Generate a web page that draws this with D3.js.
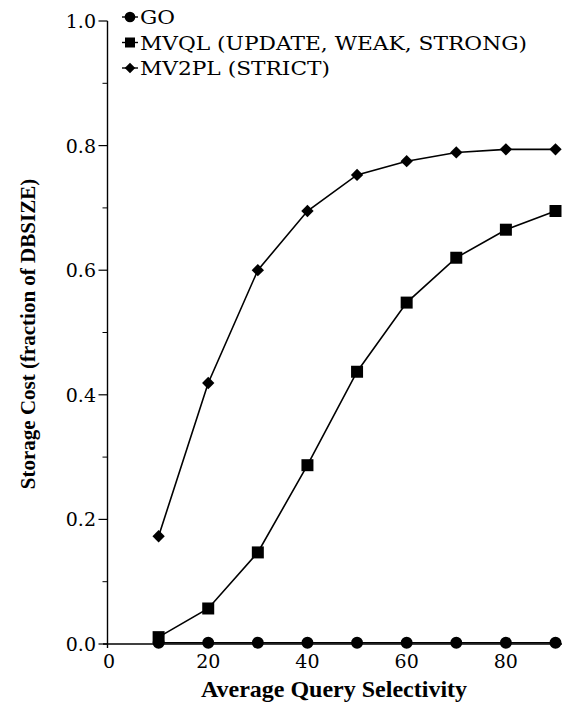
<!DOCTYPE html>
<html lang="en"><head><meta charset="UTF-8">
<title>Storage Cost vs Query Selectivity</title>
<script src="https://d3js.org/d3.v7.min.js"></script>
<style type="text/css">
  body { margin: 0; background: #fff; }
</style>
</head>
<body>
<script type="text/javascript">

// data
var selectivity = [10, 20, 30, 40, 50, 60, 70, 80, 90];
var go    = [0.002, 0.002, 0.002, 0.002, 0.002, 0.002, 0.002, 0.002, 0.002];
var mvql  = [0.011, 0.057, 0.147, 0.287, 0.437, 0.548, 0.620, 0.665, 0.695];
var mv2pl = [0.173, 0.419, 0.600, 0.695, 0.753, 0.775, 0.789, 0.794, 0.794];

var seriesNames = ["GO", "MVQL (UPDATE, WEAK, STRONG)", "MV2PL (STRICT)"];
var legendWidths = [35, 387, 190];
var xTickValues = [0, 20, 40, 60, 80];
var yTickValues = [0, 0.2, 0.4, 0.6, 0.8, 1.0];

var w = 569, h = 707;
var plain = "'DejaVu Serif', 'Liberation Serif', serif";
var boldFam = "'Liberation Serif'";

var svg = d3.select("body").append("svg")
    .attr("width", w)
    .attr("height", h);

var x = d3.scaleLinear().domain([0, 90]).range([109, 555.5]);
var y = d3.scaleLinear().domain([0, 1]).range([644, 21]);

var axisX = 107.5;

// y axis line + ticks
svg.append("line")
    .attr("x1", axisX).attr("x2", axisX)
    .attr("y1", y(1)).attr("y2", y(0) + 4)
    .attr("stroke", "#000").attr("stroke-width", 1.4);

svg.selectAll(".minor").data(d3.range(1, 10, 2).map(function(d) { return d / 10; }))
  .enter().append("line")
    .attr("x1", axisX - 5).attr("x2", axisX)
    .attr("y1", function(d) { return y(d); })
    .attr("y2", function(d) { return y(d); })
    .attr("stroke", "#000").attr("stroke-width", 1);

svg.selectAll(".major").data(yTickValues)
  .enter().append("line")
    .attr("x1", axisX - 9).attr("x2", axisX)
    .attr("y1", function(d) { return y(d); })
    .attr("y2", function(d) { return y(d); })
    .attr("stroke", "#000").attr("stroke-width", 1.2);

svg.selectAll(".ylab").data(yTickValues)
  .enter().append("text")
    .attr("x", 96)
    .attr("y", function(d) { return y(d) + 7; })
    .attr("text-anchor", "end")
    .attr("font-family", plain)
    .attr("font-size", 19)
    .text(function(d) { return d.toFixed(1); });

// x axis line + labels
svg.append("line")
    .attr("x1", 103).attr("x2", 562)
    .attr("y1", y(0)).attr("y2", y(0))
    .attr("stroke", "#000").attr("stroke-width", 1.4);

svg.selectAll(".xlab").data(xTickValues)
  .enter().append("text")
    .attr("x", function(d) { return x(d); })
    .attr("y", 668)
    .attr("text-anchor", "middle")
    .attr("font-family", plain)
    .attr("font-size", 19)
    .text(function(d) { return d; });

// axis titles
svg.append("text")
    .attr("x", 334).attr("y", 697)
    .attr("text-anchor", "middle")
    .attr("font-family", boldFam)
    .attr("font-weight", "bold")
    .attr("font-size", 24)
    .text("Average Query Selectivity");

svg.append("text")
    .attr("transform", "translate(35,334) rotate(-90)")
    .attr("text-anchor", "middle")
    .attr("font-family", boldFam)
    .attr("font-weight", "bold")
    .attr("font-size", 21)
    .text("Storage Cost (fraction of DBSIZE)");

// lines and markers
var circle = d3.symbol().type(d3.symbolCircle).size(113);
var square = d3.symbol().type(d3.symbolSquare).size(144);
var diamond = d3.symbol().type(d3.symbolSquare).size(76);

var series = [
  { name: seriesNames[2], values: mv2pl, sym: diamond, rot: 45 },
  { name: seriesNames[0], values: go, sym: circle, rot: 0 },
  { name: seriesNames[1], values: mvql, sym: square, rot: 0 }
];

var line = d3.line()
    .x(function(d) { return x(d[0]); })
    .y(function(d) { return y(d[1]); });

series.forEach(function(s) {
  var pts = d3.zip(selectivity, s.values);
  svg.append("path")
      .attr("d", line(pts))
      .attr("fill", "none")
      .attr("stroke", "#000")
      .attr("stroke-width", 1.6);
  svg.selectAll(null).data(pts)
    .enter().append("path")
      .attr("d", s.sym)
      .attr("transform", function(d) {
        return "translate(" + x(d[0]) + "," + y(d[1]) + ") rotate(" + s.rot + ")";
      })
      .attr("fill", "#000");
});

// legend
var legend = [
  { name: seriesNames[0], sym: d3.symbol().type(d3.symbolCircle).size(90), rot: 0 },
  { name: seriesNames[1], sym: d3.symbol().type(d3.symbolSquare).size(100), rot: 0 },
  { name: seriesNames[2], sym: d3.symbol().type(d3.symbolSquare).size(56), rot: 45 }
];

legend.forEach(function(l, i) {
  var cy = 17 + i * 25.5;
  svg.append("line")
      .attr("x1", 122).attr("x2", 138)
      .attr("y1", cy).attr("y2", cy)
      .attr("stroke", "#000").attr("stroke-width", 1.4);
  svg.append("path")
      .attr("d", l.sym)
      .attr("transform", "translate(130," + cy + ") rotate(" + l.rot + ")")
      .attr("fill", "#000");
  svg.append("text")
      .attr("x", 140).attr("y", cy + 7)
      .attr("font-family", plain)
      .attr("font-size", 19)
      .attr("textLength", legendWidths[i])
      .attr("lengthAdjust", "spacingAndGlyphs")
      .text(l.name);
});

</script>
</body></html>
